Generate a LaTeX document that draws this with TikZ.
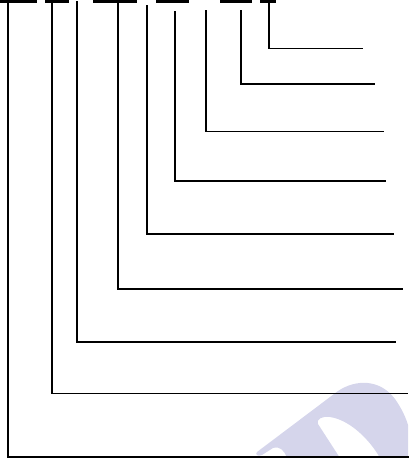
\documentclass[tikz,border=0pt]{standalone}
\begin{document}
\begin{tikzpicture}[x=1pt,y=-1pt,
  leader/.style={line width=1.6pt,line join=miter,line cap=rect},
  bar/.style={line width=2.6pt},
  wmark/.style={fill=wmcol,draw=none}]
\definecolor{wmcol}{RGB}{213,213,235}
\useasboundingbox (0,0) rectangle (408,458);
% watermark
\fill[wmark] (257,452) -- (338,391) .. controls (356,379) and (380,379) .. (395,399)
  .. controls (402,409) and (406,418) .. (408,425) -- (408,458) -- (380,458)
  .. controls (370,440) and (350,420) .. (330,417) .. controls (322,416) and (316,419) .. (318,424)
  -- (340,458) -- (287,458) .. controls (284,450) and (280,446) .. (273,448)
  -- (262,455) .. controls (257,457) and (255,454) .. (257,452) -- cycle;
% top bars
\coordinate (b1a) at (0,1.2);   \coordinate (b1b) at (37,1.2);
\coordinate (b2a) at (45,1.2);  \coordinate (b2b) at (69,1.2);
\coordinate (b3a) at (93,1.2);  \coordinate (b3b) at (137,1.2);
\coordinate (b4a) at (156,1.2); \coordinate (b4b) at (189,1.2);
\coordinate (b5a) at (220,1.2); \coordinate (b5b) at (252,1.2);
\coordinate (b6a) at (260,1.2); \coordinate (b6b) at (276,1.2);
\foreach \i in {1,...,6} \draw[bar] (b\i a) -- (b\i b);
% leaders: x, top y, bottom y, right end x
\foreach \n/\x/\t/\y/\r in {1/8/2/457/409, 2/52/2/393.5/407, 3/77/2/342/395, 4/118/2/289/402,
  5/147/6/234/393, 6/175/12/181/385, 7/206/11/131.5/383, 8/241/11/84/374, 9/269/2/48.5/362}{
  \coordinate (t\n) at (\x,\t);
  \coordinate (c\n) at (\x,\y);
  \coordinate (e\n) at (\r,\y);
  \draw[leader] (t\n) -- (c\n) -- (e\n);
}
\end{tikzpicture}
\end{document}
